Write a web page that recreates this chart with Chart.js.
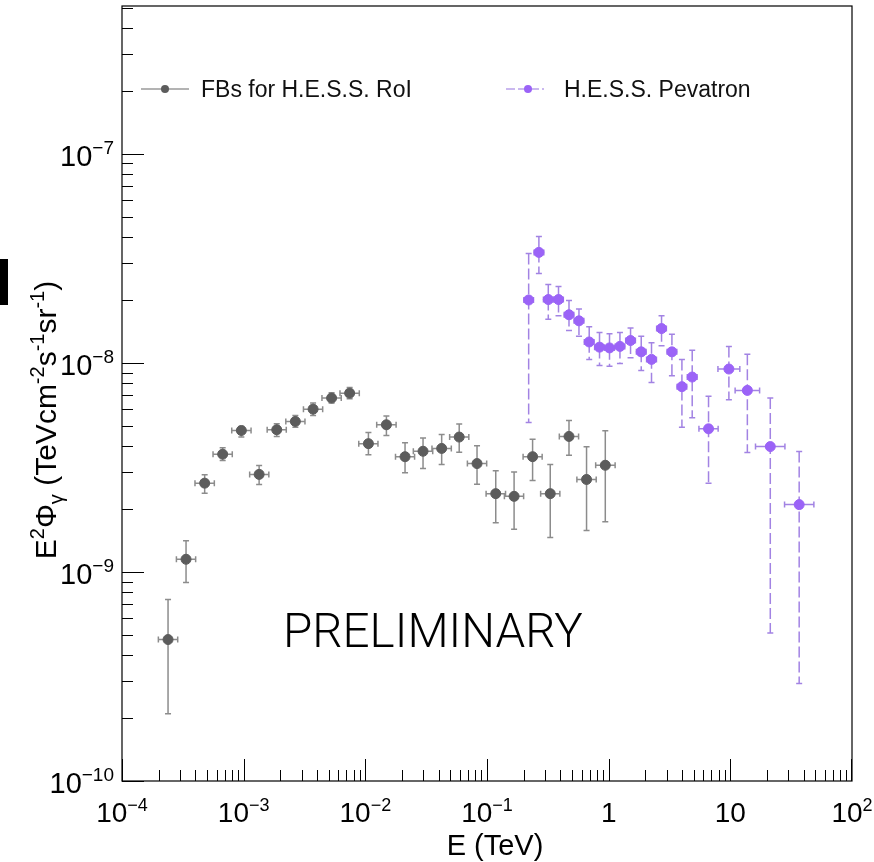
<!DOCTYPE html>
<html>
<head>
<meta charset="utf-8">
<script src="https://cdn.jsdelivr.net/npm/chart.js@4.4.1/dist/chart.umd.min.js"></script>
<style>
  html, body { margin: 0; padding: 0; background: #fff; }
  #caixa { width: 874px; height: 862px; }
</style>
</head>
<body>
<div id="caixa"><canvas id="grafico"></canvas></div>
<script>
// FBs for H.E.S.S. RoI (cinza)
const grayE    = [2.39e-4, 3.36e-4, 4.78e-4, 6.72e-4, 9.57e-4, 1.34e-3, 1.87e-3, 2.66e-3, 3.72e-3, 5.28e-3, 7.43e-3, 1.06e-2, 1.49e-2, 2.12e-2, 2.98e-2, 4.24e-2, 5.91e-2, 8.28e-2, 0.118, 0.167, 0.237, 0.331, 0.472, 0.658, 0.938];
const grayELo  = [1.99e-4, 2.80e-4, 3.98e-4, 5.60e-4, 7.98e-4, 1.12e-3, 1.56e-3, 2.22e-3, 3.10e-3, 4.40e-3, 6.19e-3, 8.83e-3, 1.24e-2, 1.77e-2, 2.48e-2, 3.53e-2, 4.93e-2, 6.90e-2, 9.83e-2, 0.139, 0.198, 0.276, 0.393, 0.548, 0.782];
const grayEHi  = [2.87e-4, 4.03e-4, 5.74e-4, 8.06e-4, 1.15e-3, 1.61e-3, 2.24e-3, 3.19e-3, 4.46e-3, 6.34e-3, 8.92e-3, 1.27e-2, 1.79e-2, 2.54e-2, 3.58e-2, 5.09e-2, 7.09e-2, 9.94e-2, 0.142, 0.200, 0.284, 0.397, 0.566, 0.790, 1.13];
const grayFlux = [4.75e-10, 1.15e-9, 2.66e-9, 3.66e-9, 4.75e-9, 2.93e-9, 4.79e-9, 5.25e-9, 6.01e-9, 6.79e-9, 7.17e-9, 4.11e-9, 5.06e-9, 3.56e-9, 3.78e-9, 3.90e-9, 4.42e-9, 3.30e-9, 2.37e-9, 2.30e-9, 3.56e-9, 2.37e-9, 4.45e-9, 2.77e-9, 3.24e-9];
const grayLo   = [2.10e-10, 8.91e-10, 2.38e-9, 3.41e-9, 4.42e-9, 2.62e-9, 4.45e-9, 4.93e-9, 5.61e-9, 6.43e-9, 6.74e-9, 3.64e-9, 4.50e-9, 2.98e-9, 3.13e-9, 3.27e-9, 3.74e-9, 2.63e-9, 1.72e-9, 1.60e-9, 2.74e-9, 1.46e-9, 3.62e-9, 1.58e-9, 1.74e-9];
const grayHi   = [7.39e-10, 1.41e-9, 2.92e-9, 3.93e-9, 4.97e-9, 3.23e-9, 5.12e-9, 5.61e-9, 6.43e-9, 7.21e-9, 7.62e-9, 4.65e-9, 5.57e-9, 4.15e-9, 4.37e-9, 4.55e-9, 5.10e-9, 4.02e-9, 3.05e-9, 3.01e-9, 4.31e-9, 3.27e-9, 5.31e-9, 3.97e-9, 4.74e-9];

// H.E.S.S. Pevatron (roxo)
const pevE    = [0.220, 0.267, 0.319, 0.387, 0.472, 0.570, 0.692, 0.841, 1.016, 1.238, 1.513, 1.852, 2.25, 2.72, 3.31, 4.00, 4.86, 6.62, 9.73, 13.8, 21.3, 36.8];
const pevELo  = [0.201, 0.244, 0.291, 0.353, 0.431, 0.520, 0.631, 0.767, 0.927, 1.130, 1.380, 1.690, 2.05, 2.48, 3.02, 3.65, 4.43, 5.52, 7.91, 10.95, 16.1, 27.9];
const pevEHi  = [0.241, 0.293, 0.350, 0.424, 0.517, 0.625, 0.758, 0.922, 1.114, 1.357, 1.658, 2.03, 2.47, 2.98, 3.63, 4.38, 5.33, 7.94, 11.97, 17.4, 28.1, 48.6];
const pevFlux = [2.00e-8, 3.38e-8, 2.01e-8, 2.01e-8, 1.70e-8, 1.59e-8, 1.26e-8, 1.19e-8, 1.18e-8, 1.20e-8, 1.28e-8, 1.13e-8, 1.04e-8, 1.46e-8, 1.13e-8, 7.70e-9, 8.56e-9, 4.84e-9, 9.35e-9, 7.39e-9, 3.98e-9, 2.10e-9];
const pevLo   = [5.19e-9, 2.68e-8, 1.62e-8, 1.68e-8, 1.43e-8, 1.34e-8, 1.04e-8, 9.71e-9, 9.63e-9, 9.93e-9, 1.06e-8, 9.19e-9, 8.07e-9, 1.21e-8, 8.69e-9, 4.93e-9, 5.47e-9, 2.66e-9, 6.67e-9, 3.73e-9, 5.10e-10, 2.93e-10];
const pevHi   = [3.34e-8, 4.03e-8, 2.37e-8, 2.32e-8, 1.99e-8, 1.81e-8, 1.49e-8, 1.40e-8, 1.38e-8, 1.40e-8, 1.47e-8, 1.34e-8, 1.25e-8, 1.68e-8, 1.37e-8, 1.04e-8, 1.15e-8, 6.92e-9, 1.20e-8, 1.10e-8, 6.79e-9, 3.77e-9];

// Eixos
const xMin = 1e-4, xMax = 1e2;
const yMin = 1e-10, yMax = 5.1e-7;
const xTickValues = [1e-4, 1e-3, 1e-2, 1e-1, 1, 10, 100];
const xTickLabels = [["10", "−4"], ["10", "−3"], ["10", "−2"], ["10", "−1"], ["1", ""], ["10", ""], ["10", "2"]];
const yTickValues = [1e-10, 1e-9, 1e-8, 1e-7];
const yTickLabels = [["10", "−10"], ["10", "−9"], ["10", "−8"], ["10", "−7"]];

const legendLabels = ["FBs for H.E.S.S. RoI", "H.E.S.S. Pevatron"];

const FONTE = '"Liberation Sans", Arimo, Arial, sans-serif';
const CINZA = "#5c5c5c", CINZA_ERRO = "#8c8c8c";
const ROXO = "#9b63f7", ROXO_ERRO = "#a283e3";

function montarPontos(xs, ys) {
    return xs.map((x, i) => ({ x: x, y: ys[i] }));
}

// Texto com sobrescrito/subscrito: partes = [[texto, tipo]] (0 normal, 1 sup, -1 sub)
function textoRico(ctx, partes, x, y, tam, alinh) {
    const fonte = t => `${t === 0 ? tam : Math.round(tam * 0.65)}px ${FONTE}`;
    let total = 0;
    partes.forEach(([t, tipo]) => { ctx.font = fonte(tipo); total += ctx.measureText(t).width; });
    let cx = alinh === "right" ? x - total : alinh === "center" ? x - total / 2 : x;
    partes.forEach(([t, tipo]) => {
        ctx.font = fonte(tipo);
        const dy = tipo === 1 ? -tam * 0.4 : tipo === -1 ? tam * 0.22 : 0;
        ctx.fillText(t, cx, y + dy);
        cx += ctx.measureText(t).width;
    });
}

function barrasErro(ctx, yScale, xScale, E, ELo, EHi, F, FLo, FHi, cor, tracejado) {
    ctx.save();
    ctx.strokeStyle = cor;
    ctx.lineWidth = 1.5;
    for (let i = 0; i < E.length; i++) {
        const px = xScale.getPixelForValue(E[i]);
        const py = yScale.getPixelForValue(F[i]);
        const yt = yScale.getPixelForValue(FHi[i]);
        const yb = yScale.getPixelForValue(FLo[i]);
        const xl = xScale.getPixelForValue(ELo[i]);
        const xr = xScale.getPixelForValue(EHi[i]);
        // vertical (tracejada no roxo)
        ctx.setLineDash(tracejado ? [11, 4] : []);
        ctx.beginPath();
        ctx.moveTo(px, yt); ctx.lineTo(px, yb);
        ctx.stroke();
        ctx.setLineDash([]);
        ctx.beginPath();
        ctx.moveTo(xl, py); ctx.lineTo(xr, py);
        ctx.moveTo(px - 3, yt); ctx.lineTo(px + 3, yt);
        ctx.moveTo(px - 3, yb); ctx.lineTo(px + 3, yb);
        ctx.moveTo(xl, py - 3); ctx.lineTo(xl, py + 3);
        ctx.moveTo(xr, py - 3); ctx.lineTo(xr, py + 3);
        ctx.stroke();
    }
    ctx.restore();
}

const pluginErros = {
    id: "erros",
    beforeDatasetsDraw(chart) {
        const ctx = chart.ctx, x = chart.scales.x, y = chart.scales.y;
        // PRELIMINARY
        ctx.save();
        ctx.fillStyle = "#000";
        ctx.textBaseline = "alphabetic";
        ctx.font = `300 45px Roboto, ${FONTE}`;
        const w = ctx.measureText("PRELIMINARY").width;
        const tam = 45 * 300 / w;
        ctx.font = `300 ${tam.toFixed(1)}px Roboto, ${FONTE}`;
        ctx.fillText("PRELIMINARY", 283, 647);
        ctx.restore();
        barrasErro(ctx, y, x, grayE, grayELo, grayEHi, grayFlux, grayLo, grayHi, CINZA_ERRO, false);
        barrasErro(ctx, y, x, pevE, pevELo, pevEHi, pevFlux, pevLo, pevHi, ROXO_ERRO, true);
    }
};

const pluginMoldura = {
    id: "moldura",
    afterDraw(chart) {
        const ctx = chart.ctx, a = chart.chartArea;
        const x = chart.scales.x, y = chart.scales.y;
        ctx.save();
        ctx.strokeStyle = "#000";
        ctx.lineWidth = 1.2;
        ctx.strokeRect(a.left, a.top, a.right - a.left, a.bottom - a.top);

        // marcas internas
        ctx.lineWidth = 1;
        ctx.beginPath();
        for (let d = -4; d < 2; d++) {
            for (let k = 1; k < 10; k++) {
                const v = k * Math.pow(10, d);
                const px = Math.round(x.getPixelForValue(v)) + 0.5;
                const len = k === 1 ? 22 : 11;
                ctx.moveTo(px, a.bottom); ctx.lineTo(px, a.bottom - len);
            }
        }
        const px100 = Math.round(x.getPixelForValue(100)) - 0.5;
        ctx.moveTo(px100, a.bottom); ctx.lineTo(px100, a.bottom - 22);
        for (let d = -10; d < -6; d++) {
            for (let k = 1; k < 10; k++) {
                const v = k * Math.pow(10, d);
                if (v > yMax) break;
                const py = Math.round(y.getPixelForValue(v)) + 0.5;
                const len = k === 1 ? 22 : 11;
                ctx.moveTo(a.left, py); ctx.lineTo(a.left + len, py);
            }
        }
        ctx.stroke();

        // rótulos dos eixos
        ctx.fillStyle = "#000";
        ctx.textBaseline = "alphabetic";
        xTickValues.forEach((v, i) => {
            const [b, s] = xTickLabels[i];
            const partes = s ? [[b, 0], [s, 1]] : [[b, 0]];
            textoRico(ctx, partes, x.getPixelForValue(v), 822, 28, "center");
        });
        yTickValues.forEach((v, i) => {
            const [b, s] = yTickLabels[i];
            textoRico(ctx, [[b, 0], [s, 1]], 114, y.getPixelForValue(v) + 12, 29, "right");
        });

        // títulos
        textoRico(ctx, [["E (TeV)", 0]], 495, 855, 29, "center");
        ctx.save();
        ctx.translate(56, 420);
        ctx.rotate(-Math.PI / 2);
        textoRico(ctx, [["E", 0], ["2", 1], ["Φ", 0], ["γ", -1], [" (TeVcm", 0], ["-2", 1], ["s", 0], ["-1", 1], ["sr", 0], ["-1", 1], [")", 0]], 0, 0, 30, "center");
        ctx.restore();

        // legenda
        const ly = 89;
        ctx.strokeStyle = "#9a9a9a";
        ctx.lineWidth = 1.5;
        ctx.beginPath(); ctx.moveTo(141, ly); ctx.lineTo(189, ly); ctx.stroke();
        ctx.fillStyle = CINZA;
        ctx.beginPath(); ctx.arc(165, ly, 4, 0, Math.PI * 2); ctx.fill();
        ctx.strokeStyle = "#b9a1ea";
        ctx.setLineDash([9, 3]);
        ctx.beginPath(); ctx.moveTo(506, ly); ctx.lineTo(544, ly); ctx.stroke();
        ctx.setLineDash([]);
        ctx.fillStyle = ROXO;
        ctx.beginPath(); ctx.arc(528, ly, 4, 0, Math.PI * 2); ctx.fill();
        ctx.fillStyle = "#111";
        ctx.font = `23px ${FONTE}`;
        ctx.fillText(legendLabels[0], 201, ly + 8);
        ctx.fillText(legendLabels[1], 564, ly + 8);

        // resto de glifo na borda esquerda
        ctx.fillStyle = "#000";
        ctx.fillRect(0, 259, 8, 46);
        ctx.restore();
    }
};

new Chart(document.getElementById("grafico").getContext("2d"), {
    type: "scatter",
    data: {
        datasets: [{
            label: legendLabels[0],
            data: montarPontos(grayE, grayFlux),
            backgroundColor: CINZA,
            borderColor: CINZA,
            pointRadius: 5,
            showLine: false
        }, {
            label: legendLabels[1],
            data: montarPontos(pevE, pevFlux),
            backgroundColor: ROXO,
            borderColor: ROXO,
            pointRadius: 5,
            showLine: false
        }]
    },
    options: {
        responsive: true,
        maintainAspectRatio: false,
        animation: false,
        devicePixelRatio: 1,
        layout: { padding: { left: 122, right: 22, top: 5, bottom: 81 } },
        plugins: {
            legend: { display: false },
            tooltip: { enabled: false }
        },
        scales: {
            x: {
                type: "logarithmic",
                min: xMin, max: xMax,
                ticks: { display: false },
                grid: { display: false, drawTicks: false },
                border: { display: false }
            },
            y: {
                type: "logarithmic",
                min: yMin, max: yMax,
                ticks: { display: false },
                grid: { display: false, drawTicks: false },
                border: { display: false }
            }
        }
    },
    plugins: [pluginErros, pluginMoldura]
});
</script>
</body>
</html>
